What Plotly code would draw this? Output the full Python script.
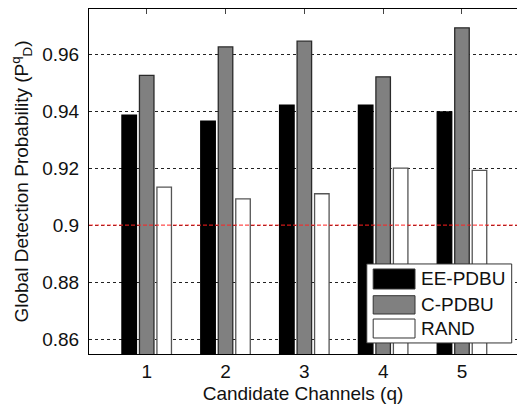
import plotly.graph_objects as go

channels = [1, 2, 3, 4, 5]
ee_pdbu = [0.9386, 0.9365, 0.9421, 0.9421, 0.9397]
c_pdbu = [0.9525, 0.9625, 0.9645, 0.9520, 0.9692]
rand = [0.9133, 0.9092, 0.9110, 0.9200, 0.9192]
y_ticks = [0.86, 0.88, 0.90, 0.92, 0.94, 0.96]
y_tick_text = ["0.86", "0.88", "0.9", "0.92", "0.94", "0.96"]
series_names = ["EE-PDBU", "C-PDBU", "RAND"]

FONT = "Liberation Sans, Arial, sans-serif"
fills = ["#000000", "#808080", "#ffffff"]
lines = ["#000000", "#2a2a2a", "#555555"]

fig = go.Figure()
for name, vals, fc, lc in zip(series_names, [ee_pdbu, c_pdbu, rand], fills, lines):
    fig.add_trace(go.Bar(x=channels, y=vals, name=name, marker=dict(color=fc, line=dict(color=lc, width=1.3)),
                         showlegend=False))

fig.update_layout(
    width=517, height=404,
    margin=dict(l=89, r=0, t=9, b=50),
    paper_bgcolor="white", plot_bgcolor="white",
    barmode="group", bargap=0.334, bargroupgap=0.17,
    font=dict(family=FONT, size=19, color="#111111"),
)
fig.update_xaxes(
    range=[0.268, 5.698], tickvals=channels, ticktext=[str(c) for c in channels],
    showgrid=False, zeroline=False,
    showline=True, linecolor="black", linewidth=1, mirror="ticks",
    ticks="inside", ticklen=5, tickcolor="#444", layer="below traces",
    title=dict(text="Candidate Channels (q)", standoff=6, font=dict(size=19)),
    tickfont=dict(size=19),
)
fig.update_yaxes(
    range=[0.8548, 0.9758], tickvals=y_ticks, ticktext=y_tick_text,
    showgrid=True, gridcolor="#222", gridwidth=1, griddash="3px,3px",
    zeroline=False, showline=True, linecolor="black", linewidth=1, mirror=False,
    ticks="", ticklabelstandoff=5,
    title=dict(text="Global Detection Probability (P<sup>q</sup><sub>D</sub>)", standoff=8, font=dict(size=19)),
    tickfont=dict(size=19),
)

# red threshold line at 0.9
fig.add_shape(type="line", xref="paper", x0=0, x1=1, yref="y", y0=0.9, y1=0.9,
              line=dict(color="#ff2020", width=1, dash="4px,2px"), layer="above")

# manual legend box
fig.add_shape(type="rect", xref="paper", yref="paper", x0=0.649, x1=0.9876, y0=0.032, y1=0.261,
              fillcolor="white", line=dict(color="#333", width=1), layer="above")
sw_y = [(0.1884, 0.2464), (0.1159, 0.169), (0.0464, 0.1014)]
for name, fc, (y0, y1) in zip(series_names, fills, sw_y):
    fig.add_shape(type="rect", xref="paper", yref="paper", x0=0.664, x1=0.7617, y0=y0, y1=y1,
                  fillcolor=fc, line=dict(color="#333", width=1), layer="above")
    fig.add_annotation(xref="paper", yref="paper", x=0.7717, y=(y0 + y1) / 2, text=name,
                       showarrow=False, xanchor="left", yanchor="middle",
                       font=dict(family=FONT, size=19, color="#111"))

fig.write_html("out.html")
